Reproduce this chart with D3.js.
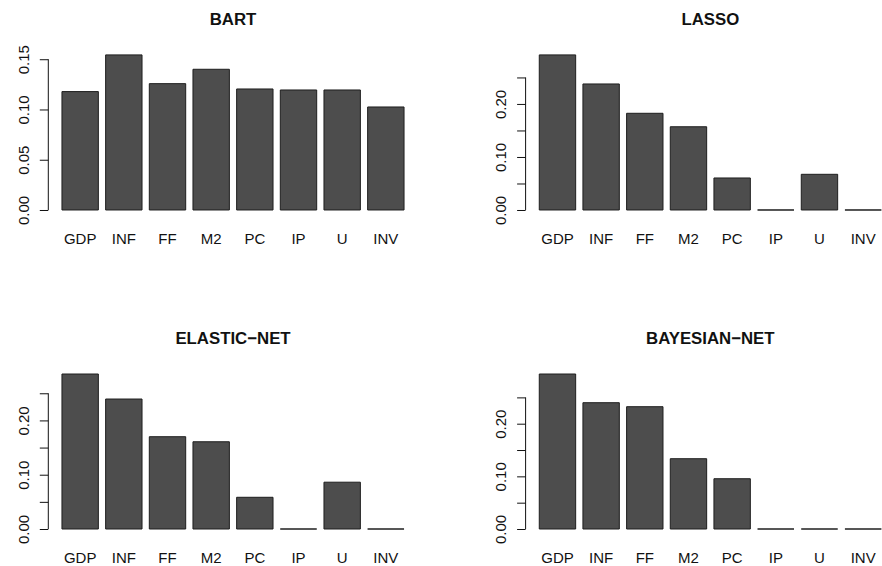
<!DOCTYPE html>
<html>
<head>
<meta charset="utf-8">
<script src="https://cdn.jsdelivr.net/npm/d3@7"></script>
<style>
  body { margin: 0; background: #fff; }
  svg { display: block; font-family: "Liberation Sans", Arial, Helvetica, sans-serif; }
</style>
</head>
<body>
<svg id="chart" width="882" height="566"></svg>
<script>
// variables on the x axis
const categories = ["GDP", "INF", "FF", "M2", "PC", "IP", "U", "INV"];

// importance per method
const bartValues    = [0.1178, 0.1543, 0.1257, 0.1400, 0.1204, 0.1194, 0.1194, 0.1025];
const lassoValues   = [0.2925, 0.2377, 0.1824, 0.1570, 0.0604, 0, 0.0673, 0];
const elasticValues = [0.2855, 0.2394, 0.1700, 0.1607, 0.0584, 0, 0.0862, 0];
const bayesValues   = [0.2944, 0.2399, 0.2323, 0.1335, 0.0955, 0, 0, 0];

const titles = ["BART", "LASSO", "ELASTIC\u2212NET", "BAYESIAN\u2212NET"];

// y ticks (R drops labels that would overlap)
const bartTicks = [0, 0.05, 0.10, 0.15];
const bartTickLabels = ["0.00", "0.05", "0.10", "0.15"];
const netTicks = [0, 0.05, 0.10, 0.15, 0.20, 0.25];
const netTickLabels = ["0.00", "", "0.10", "", "0.20", ""];

const svg = d3.select("#chart");

const cols = [[48.3, 417.7], [525.6, 895]];
const rows = [[48.7, 216.2], [367.8, 535.2]];

const panels = [
  {title: titles[0], values: bartValues,    ticks: bartTicks, labels: bartTickLabels, col: 0, row: 0},
  {title: titles[1], values: lassoValues,   ticks: netTicks,  labels: netTickLabels,  col: 1, row: 0},
  {title: titles[2], values: elasticValues, ticks: netTicks,  labels: netTickLabels,  col: 0, row: 1},
  {title: titles[3], values: bayesValues,   ticks: netTicks,  labels: netTickLabels,  col: 1, row: 1}
];

panels.forEach(p => {
  const [left, right] = cols[p.col];
  const [top, bottom] = rows[p.row];
  const max = d3.max(p.values);

  const x = d3.scaleBand()
    .domain(categories)
    .range([left, right])
    .paddingInner(1 / 6)
    .paddingOuter(0.313);
  const y = d3.scaleLinear()
    .domain([-0.04 * max, 1.04 * max])
    .range([bottom, top]);

  const g = svg.append("g");

  // bars as paths so zero-height ones still show as a line
  g.selectAll("path.bar")
    .data(categories.map((c, i) => ({c, v: p.values[i]})))
    .join("path")
      .attr("class", "bar")
      .attr("d", d => {
        const x0 = x(d.c), x1 = x0 + x.bandwidth();
        const y0 = y(0), y1 = y(d.v);
        return `M${x0},${y0}H${x1}V${y1}H${x0}Z`;
      })
      .attr("fill", "#4d4d4d")
      .attr("stroke", "#1e1e1e")
      .attr("stroke-width", 1);

  // y axis
  const ax = g.append("g")
    .attr("transform", `translate(${left},0)`)
    .call(d3.axisLeft(y)
      .tickValues(p.ticks)
      .tickSize(8.5)
      .tickFormat((d, i) => p.labels[i]));
  ax.select(".domain").remove();
  ax.append("line")
    .attr("x1", 0).attr("x2", 0)
    .attr("y1", y(p.ticks[0]))
    .attr("y2", y(p.ticks[p.ticks.length - 1]))
    .attr("stroke", "#111");
  ax.selectAll(".tick line").attr("stroke", "#111");
  ax.selectAll(".tick text")
    .attr("transform", "rotate(-90)")
    .attr("x", 0)
    .attr("y", -25)
    .attr("dy", null)
    .attr("text-anchor", "middle")
    .attr("dominant-baseline", "central")
    .attr("font-size", 15)
    .attr("font-family", null)
    .attr("fill", "#111");

  // category labels
  const bx = g.append("g")
    .attr("transform", `translate(0,${bottom})`)
    .call(d3.axisBottom(x).tickSize(0));
  bx.select(".domain").remove();
  bx.selectAll(".tick text")
    .attr("y", 27.5)
    .attr("dy", null)
    .attr("font-size", 15)
    .attr("font-family", null)
    .attr("fill", "#111");

  // title
  g.append("text")
    .attr("x", (left + right) / 2)
    .attr("y", top - 23.7)
    .attr("text-anchor", "middle")
    .attr("font-size", 16.8)
    .attr("font-weight", "bold")
    .attr("fill", "#111")
    .text(p.title);
});
</script>
</body>
</html>
